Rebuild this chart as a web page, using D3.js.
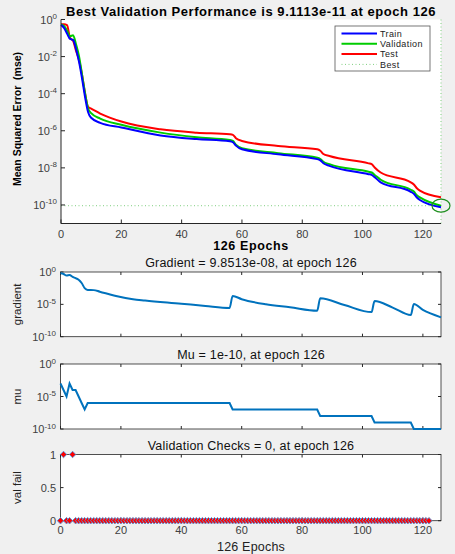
<!DOCTYPE html>
<html>
<head>
<meta charset="utf-8">
<script src="https://cdn.jsdelivr.net/npm/d3@7"></script>
<style>
body{margin:0;background:#f0f0f0}
svg{display:block;font-family:"Liberation Sans",Arial,sans-serif}
</style>
</head>
<body>
<div id="graph"></div>
<script>
// performance curves at a set of epochs
var perfEpochs = [0, 1, 2, 3, 4, 5, 6, 7, 8, 9, 10, 13, 20, 33, 45, 56, 57, 58, 60, 72, 85, 86, 87, 89, 102, 103, 104, 106, 116, 117, 118, 119, 126]
var trainPerf = [0.513, 0.355, 0.178, 0.0891, 0.0794, 0.0251, 0.00501, 6.31e-4, 6.31e-5, 1.0e-5, 5.01e-6, 2.69e-6, 1.51e-6, 5.62e-7, 3.55e-7, 2.69e-7, 2.40e-7, 1.58e-7, 1.0e-7, 5.37e-8, 2.95e-8, 2.51e-8, 1.78e-8, 1.29e-8, 4.57e-9, 4.17e-9, 3.16e-9, 1.66e-9, 5.13e-10, 3.98e-10, 2.51e-10, 1.86e-10, 7.59e-11]
var valPerf = [0.537, 0.447, 0.251, 0.126, 0.141, 0.0447, 0.01, 1.0e-3, 1.0e-4, 1.58e-5, 8.91e-6, 4.57e-6, 2.09e-6, 7.94e-7, 4.47e-7, 3.16e-7, 2.82e-7, 1.78e-7, 1.15e-7, 6.17e-8, 3.55e-8, 3.02e-8, 2.14e-8, 1.58e-8, 6.17e-9, 5.62e-9, 4.17e-9, 2.29e-9, 6.61e-10, 5.25e-10, 3.31e-10, 2.57e-10, 9.1113e-11]
var testPerf = [0.55, 0.562, 0.5, 0.1, 0.0708, 0.02, 0.00631, 1.0e-3, 1.0e-4, 1.91e-5, 1.58e-5, 8.51e-6, 3.16e-6, 1.20e-6, 7.94e-7, 6.46e-7, 6.03e-7, 3.98e-7, 2.82e-7, 1.51e-7, 1.0e-7, 8.32e-8, 5.62e-8, 4.37e-8, 1.74e-8, 1.58e-8, 1.05e-8, 5.62e-9, 1.66e-9, 1.26e-9, 7.94e-10, 5.89e-10, 2.57e-10]
var bestEpoch = 126
var bestPerf = 9.1113e-11

var gradEpochs = [0, 1, 2, 3, 4, 5, 6, 7, 8, 9, 11, 13, 18, 24, 28, 40, 48, 56, 57, 60, 68, 76, 85, 86, 94, 103, 104, 110, 116, 117, 120, 126]
var gradValues = [0.631, 0.501, 0.282, 0.355, 0.178, 0.112, 0.0631, 0.02, 0.00316, 0.00166, 0.00158, 9.12e-4, 2.19e-4, 6.31e-5, 3.98e-5, 1.26e-5, 5.62e-6, 2.82e-6, 2.0e-4, 6.31e-5, 1.0e-5, 3.55e-6, 1.05e-6, 8.71e-5, 7.94e-6, 6.31e-7, 3.39e-5, 3.16e-6, 2.24e-7, 1.12e-5, 1.35e-6, 9.8513e-8]

var muEpochs = [0, 1, 2, 3, 4, 5, 6, 7, 8, 9, 56, 57, 85, 86, 103, 104, 116, 117, 126]
var muValues = [1e-3, 1e-4, 1e-5, 1e-3, 1e-4, 1e-4, 1e-5, 1e-6, 1e-7, 1e-6, 1e-6, 1e-7, 1e-7, 1e-8, 1e-8, 1e-9, 1e-9, 1e-10, 1e-10]

var valFail = [0, 1, 0, 0, 1, 0, 0, 0, 0, 0, 0, 0, 0, 0, 0, 0, 0, 0, 0, 0, 0, 0, 0, 0, 0, 0,
  0, 0, 0, 0, 0, 0, 0, 0, 0, 0, 0, 0, 0, 0, 0, 0, 0, 0, 0, 0, 0, 0, 0, 0, 0, 0, 0, 0, 0, 0,
  0, 0, 0, 0, 0, 0, 0, 0, 0, 0, 0, 0, 0, 0, 0, 0, 0, 0, 0, 0, 0, 0, 0, 0, 0, 0, 0, 0, 0, 0,
  0, 0, 0, 0, 0, 0, 0, 0, 0, 0, 0, 0, 0, 0, 0, 0, 0, 0, 0, 0, 0, 0, 0, 0, 0, 0, 0, 0, 0, 0,
  0, 0, 0, 0, 0, 0, 0]

var xTicks = [0, 20, 40, 60, 80, 100, 120]
var perfTicks = [1e0, 1e-2, 1e-4, 1e-6, 1e-8, 1e-10]
var smallLogTicks = [1e0, 1e-5, 1e-10]
var valTicks = [0, 0.5, 1]
var legendNames = ['Train', 'Validation', 'Test', 'Best']

var W = 455, H = 554
var svg = d3.select('#graph').append('svg').attr('width', W).attr('height', H)
svg.append('rect').attr('width', W).attr('height', H).attr('fill', '#f0f0f0')

var tickColor = '#404040'

function logLabel(sel, v){
  var e = Math.round(Math.log10(v))
  sel.text('10').append('tspan').attr('dy', -4.5).attr('font-size', 8).text(e)
}

// ---------- performance plot ----------
var x = d3.scaleLinear().domain([0, 126]).range([61, 441])
var y = d3.scaleLog().domain([1e-11, 1]).range([223.5, 19.5])

var perfG = svg.append('g')
perfG.append('rect').attr('x', 61).attr('y', 19.5).attr('width', 380).attr('height', 204).attr('fill', '#fff')

// best lines
perfG.append('line')
  .attr('x1', x(0)).attr('x2', x(126)).attr('y1', y(bestPerf)).attr('y2', y(bestPerf))
  .attr('stroke', '#7fcf7f').attr('stroke-dasharray', '1,2.5').attr('stroke-width', 1)
perfG.append('line')
  .attr('x1', x(bestEpoch)).attr('x2', x(bestEpoch)).attr('y1', y.range()[1]).attr('y2', y.range()[0])
  .attr('stroke', '#7fcf7f').attr('stroke-dasharray', '1,2.5').attr('stroke-width', 1)

var perfLine = d3.line()
  .x((d, i) => x(perfEpochs[i]))
  .y(d => y(d))
  .curve(d3.curveMonotoneX)

var series = [
  {name: 'Train', values: trainPerf, color: '#0000ff'},
  {name: 'Validation', values: valPerf, color: '#00cc00'},
  {name: 'Test', values: testPerf, color: '#ff0000'}
]
// draw test first so train sits on top like the reference
series.slice().reverse().forEach(s => {
  perfG.append('path').attr('d', perfLine(s.values))
    .attr('fill', 'none').attr('stroke', s.color).attr('stroke-width', 2)
})

perfG.append('ellipse')
  .attr('cx', x(bestEpoch)).attr('cy', y(bestPerf)).attr('rx', 9).attr('ry', 6.5)
  .attr('fill', 'none').attr('stroke', '#1f8f1f').attr('stroke-width', 1.2)

// axes
perfG.append('line').attr('x1', 61).attr('x2', 61).attr('y1', 19.5).attr('y2', 223.5).attr('stroke', '#262626')
perfG.append('line').attr('x1', 61).attr('x2', 441).attr('y1', 223.5).attr('y2', 223.5).attr('stroke', '#262626')

perfG.selectAll('.yt').data(perfTicks).enter().append('line')
  .attr('x1', 61).attr('x2', 65).attr('y1', d => y(d)).attr('y2', d => y(d)).attr('stroke', '#262626')
perfG.selectAll('.ytl').data(perfTicks).enter().append('text')
  .attr('x', 57).attr('y', d => y(d) + 4)
  .attr('text-anchor', 'end').attr('font-size', 11).attr('fill', tickColor)
  .each(function(d){ logLabel(d3.select(this), d) })

perfG.selectAll('.xt').data(xTicks).enter().append('line')
  .attr('x1', d => x(d)).attr('x2', d => x(d)).attr('y1', 223.5).attr('y2', 219.5).attr('stroke', '#262626')
perfG.selectAll('.xtl').data(xTicks).enter().append('text')
  .attr('x', d => x(d)).attr('y', 238)
  .attr('text-anchor', 'middle').attr('font-size', 11).attr('fill', tickColor)
  .text(d => d)

perfG.append('text').attr('x', 251).attr('y', 16).attr('text-anchor', 'middle')
  .attr('font-size', 13).attr('font-weight', 'bold').attr('fill', '#000')
  .attr('letter-spacing', 0.55)
  .text('Best Validation Performance is 9.1113e-11 at epoch 126')
perfG.append('text').attr('x', 251).attr('y', 250).attr('text-anchor', 'middle')
  .attr('font-size', 12.5).attr('font-weight', 'bold').attr('fill', '#000')
  .attr('letter-spacing', 0.6)
  .text('126 Epochs')
perfG.append('text').attr('transform', 'translate(21,119) rotate(-90)').attr('text-anchor', 'middle')
  .attr('font-size', 10.5).attr('font-weight', 'bold').attr('fill', '#000')
  .style('white-space', 'pre')
  .text('Mean Squared Error  (mse)')

// legend
var lg = perfG.append('g').attr('transform', 'translate(335,26)')
lg.append('rect').attr('width', 95).attr('height', 45).attr('fill', '#fff').attr('stroke', '#555').attr('stroke-width', 0.8)
var legendColors = ['#0000ff', '#00cc00', '#ff0000', '#7fcf7f']
legendNames.forEach((n, i) => {
  var ly = 7.5 + i * 10.3
  lg.append('line').attr('x1', 6.5).attr('x2', 42).attr('y1', ly).attr('y2', ly)
    .attr('stroke', legendColors[i]).attr('stroke-width', i < 3 ? 2 : 1)
    .attr('stroke-dasharray', i < 3 ? null : '1,2.5')
  lg.append('text').attr('x', 45).attr('y', ly + 3.3).attr('font-size', 9)
    .attr('letter-spacing', 0.4).attr('fill', '#222').text(n)
})

// ---------- small panels ----------
var xs = d3.scaleLinear().domain([0, 126]).range([60.5, 441])

function panel(y0, y1, scale, ticks, title, ylabel, labelFn){
  var g = svg.append('g')
  g.append('rect').attr('x', 60.5).attr('y', y0).attr('width', 380.5).attr('height', y1 - y0)
    .attr('fill', '#fff').attr('stroke', '#262626').attr('stroke-width', 0.8)
  xTicks.forEach(t => {
    g.append('line').attr('x1', xs(t)).attr('x2', xs(t)).attr('y1', y0).attr('y2', y0 + 3).attr('stroke', '#262626')
    g.append('line').attr('x1', xs(t)).attr('x2', xs(t)).attr('y1', y1).attr('y2', y1 - 3).attr('stroke', '#262626')
  })
  ticks.forEach(t => {
    g.append('line').attr('x1', 60.5).attr('x2', 63.5).attr('y1', scale(t)).attr('y2', scale(t)).attr('stroke', '#262626')
    g.append('line').attr('x1', 441).attr('x2', 438).attr('y1', scale(t)).attr('y2', scale(t)).attr('stroke', '#262626')
    var tx = g.append('text').attr('x', 56).attr('y', scale(t) + 4)
      .attr('text-anchor', 'end').attr('font-size', 11).attr('fill', tickColor)
    labelFn(tx, t)
  })
  g.append('text').attr('x', 251).attr('y', y0 - 5).attr('text-anchor', 'middle')
    .attr('font-size', 12.5).attr('letter-spacing', 0.2).attr('fill', '#111').text(title)
  g.append('text').attr('transform', `translate(21,${(y0 + y1) / 2}) rotate(-90)`)
    .attr('text-anchor', 'middle').attr('font-size', 11.5).attr('fill', '#222').text(ylabel)
  return g
}

// gradient
var yg = d3.scaleLog().domain([1e-10, 1]).range([336.7, 272])
var gg = panel(272, 336.7, yg, smallLogTicks, 'Gradient = 9.8513e-08, at epoch 126', 'gradient', logLabel)
gg.append('path')
  .attr('d', d3.line().x((d, i) => xs(gradEpochs[i])).y(d => yg(d)).curve(d3.curveMonotoneX)(gradValues))
  .attr('fill', 'none').attr('stroke', '#0072bd').attr('stroke-width', 2)

// mu
var ym = d3.scaleLog().domain([1e-10, 1]).range([429, 364])
var gm = panel(364, 429, ym, smallLogTicks, 'Mu = 1e-10, at epoch 126', 'mu', logLabel)
gm.append('path')
  .attr('d', d3.line().x((d, i) => xs(muEpochs[i])).y(d => ym(d))(muValues))
  .attr('fill', 'none').attr('stroke', '#0072bd').attr('stroke-width', 2)

// validation checks
var yv = d3.scaleLinear().domain([0, 1]).range([520.7, 454.5])
var gv = panel(454.5, 520.7, yv, valTicks, 'Validation Checks = 0, at epoch 126', 'val fail', (s, t) => s.text(t))
gv.selectAll('.vf').data(valFail).enter().append('path')
  .attr('d', 'M0,-3.2L3.2,0L0,3.2L-3.2,0Z')
  .attr('transform', (d, i) => `translate(${xs(i)},${yv(d)})`)
  .attr('fill', '#ff0000').attr('stroke', '#5b8fd0').attr('stroke-width', 1)

xTicks.forEach(t => {
  gv.append('text').attr('x', xs(t)).attr('y', 534).attr('text-anchor', 'middle')
    .attr('font-size', 11).attr('fill', tickColor).text(t)
})
gv.append('text').attr('x', 251).attr('y', 551).attr('text-anchor', 'middle')
  .attr('font-size', 12.5).attr('letter-spacing', 0.2).attr('fill', '#222').text('126 Epochs')
</script>
</body>
</html>
